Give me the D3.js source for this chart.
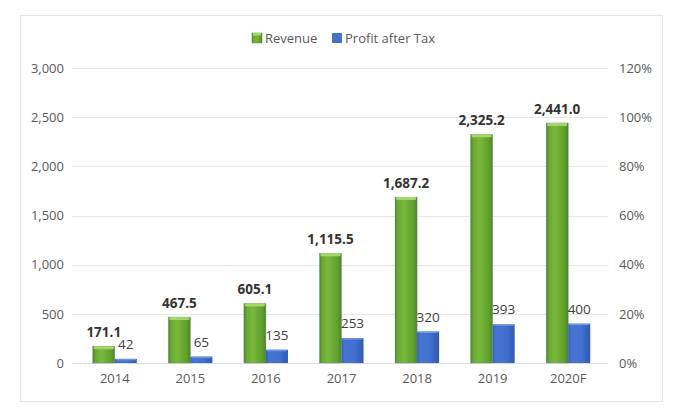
<!DOCTYPE html>
<html><head><meta charset="utf-8">
<script src="https://cdn.jsdelivr.net/npm/d3@7"></script>
<style>body{margin:0;background:#fff}svg{display:block;font-family:"Open Sans",sans-serif}</style>
</head><body>
<svg id="c" width="680" height="420"></svg>
<script>
const categories = ["2014","2015","2016","2017","2018","2019","2020F"];
const revenue = [171.1, 467.5, 605.1, 1115.5, 1687.2, 2325.2, 2441.0];
const profit = [42, 65, 135, 253, 320, 393, 400];
const leftTicks = [0, 500, 1000, 1500, 2000, 2500, 3000];
const rightTicks = [0, 0.2, 0.4, 0.6, 0.8, 1.0, 1.2];
const seriesNames = ["Revenue", "Profit after Tax"];

const svg = d3.select("#c");
const defs = svg.append("defs");
const gg = defs.append("linearGradient").attr("id","gG").attr("x1","0").attr("x2","1").attr("y1","0").attr("y2","0");
[[0,"#4a8421"],[0.12,"#6aa832"],[0.4,"#78b93c"],[0.85,"#5f9e2b"],[1,"#4a8421"]].forEach(s=>gg.append("stop").attr("offset",s[0]).attr("stop-color",s[1]));
const bg = defs.append("linearGradient").attr("id","gB").attr("x1","0").attr("x2","1").attr("y1","0").attr("y2","0");
[[0,"#3561bd"],[0.15,"#4674d2"],[0.6,"#4170cf"],[1,"#2f59b3"]].forEach(s=>bg.append("stop").attr("offset",s[0]).attr("stop-color",s[1]));

// border
svg.append("rect").attr("x",20.5).attr("y",15.5).attr("width",642).attr("height",386)
  .attr("fill","none").attr("stroke","#e4e4e4");

const x = d3.scaleBand().domain(categories).range([77, 606]).paddingInner(0.417).paddingOuter(0.2085);
const xs = d3.scaleBand().domain(seriesNames).range([0, x.bandwidth()]);
const y = d3.scaleLinear().domain([0, 3000]).range([363, 68]);
const y2 = d3.scaleLinear().domain([0, 1.2]).range([363, 68]);

// grid
svg.append("g").selectAll("line").data(leftTicks).join("line")
  .attr("x1",72).attr("x2",608).attr("y1",d=>Math.round(y(d))+0.5).attr("y2",d=>Math.round(y(d))+0.5)
  .attr("stroke",d=>d===0?"#d9d9d9":"#e6e6e6").attr("stroke-width",1);

// left axis
const la = svg.append("g").attr("transform","translate(72,0)")
  .call(d3.axisLeft(y).tickValues(leftTicks).tickFormat(d3.format(",")).tickSize(0).tickPadding(8));
la.select(".domain").remove();
la.selectAll("text").attr("fill","#595959").attr("font-size",13).attr("font-family","Open Sans");

// right axis
const ra = svg.append("g").attr("transform","translate(608,0)")
  .call(d3.axisRight(y2).tickValues(rightTicks).tickFormat(d3.format(".0%")).tickSize(0).tickPadding(11));
ra.select(".domain").remove();
ra.selectAll("text").attr("fill","#595959").attr("font-size",13).attr("font-family","Open Sans");

// x axis
const xa = svg.append("g").attr("transform","translate(0,363)")
  .call(d3.axisBottom(x).tickSize(0).tickPadding(11));
xa.select(".domain").remove();
xa.selectAll("text").attr("fill","#595959").attr("font-size",13).attr("font-family","Open Sans");

// bars
const g = svg.append("g");
categories.forEach((c,i)=>{
  const gx = x(c) + xs("Revenue"), gw = xs.bandwidth();
  const top = y(revenue[i]);
  g.append("rect").attr("x",gx).attr("y",top).attr("width",gw).attr("height",y(0)-top)
    .attr("fill","url(#gG)").attr("stroke","#6a8fa0").attr("stroke-width",0.4);
  g.append("rect").attr("x",gx+1).attr("y",top).attr("width",gw-2).attr("height",3)
    .attr("fill","#a4d66a").attr("rx",1);
  const bx = x(c) + xs("Profit after Tax");
  const bt = y(profit[i]);
  g.append("rect").attr("x",bx).attr("y",bt).attr("width",xs.bandwidth()).attr("height",y(0)-bt)
    .attr("fill","url(#gB)");
  g.append("rect").attr("x",bx+1).attr("y",bt).attr("width",xs.bandwidth()-2).attr("height",Math.min(1.5,y(0)-bt))
    .attr("fill","#6f96e0");
  g.append("text").attr("x",gx+gw/2).attr("y",top-9).attr("text-anchor","middle")
    .attr("font-size",13.5).attr("font-weight","bold").attr("fill","#333")
    .text(d3.format(",.1f")(revenue[i]));
  g.append("text").attr("x",bx+xs.bandwidth()/2).attr("y",bt-10).attr("text-anchor","middle")
    .attr("font-size",13.5).attr("fill","#404040")
    .text(profit[i]);
});

// legend
const lg = svg.append("g");
lg.append("rect").attr("x",252).attr("y",33).attr("width",10).attr("height",10).attr("fill","url(#gG)").attr("stroke","#5a8a3a").attr("stroke-width",0.5);
lg.append("rect").attr("x",253).attr("y",33).attr("width",8).attr("height",2.5).attr("fill","#a4d66a");
lg.append("text").attr("x",265).attr("y",43).attr("font-size",13).attr("fill","#595959").text(seriesNames[0]);
lg.append("rect").attr("x",332).attr("y",33).attr("width",10).attr("height",10).attr("fill","#4472c4");
lg.append("text").attr("x",345).attr("y",43).attr("font-size",13).attr("fill","#595959").text(seriesNames[1]);
</script>
</body></html>
